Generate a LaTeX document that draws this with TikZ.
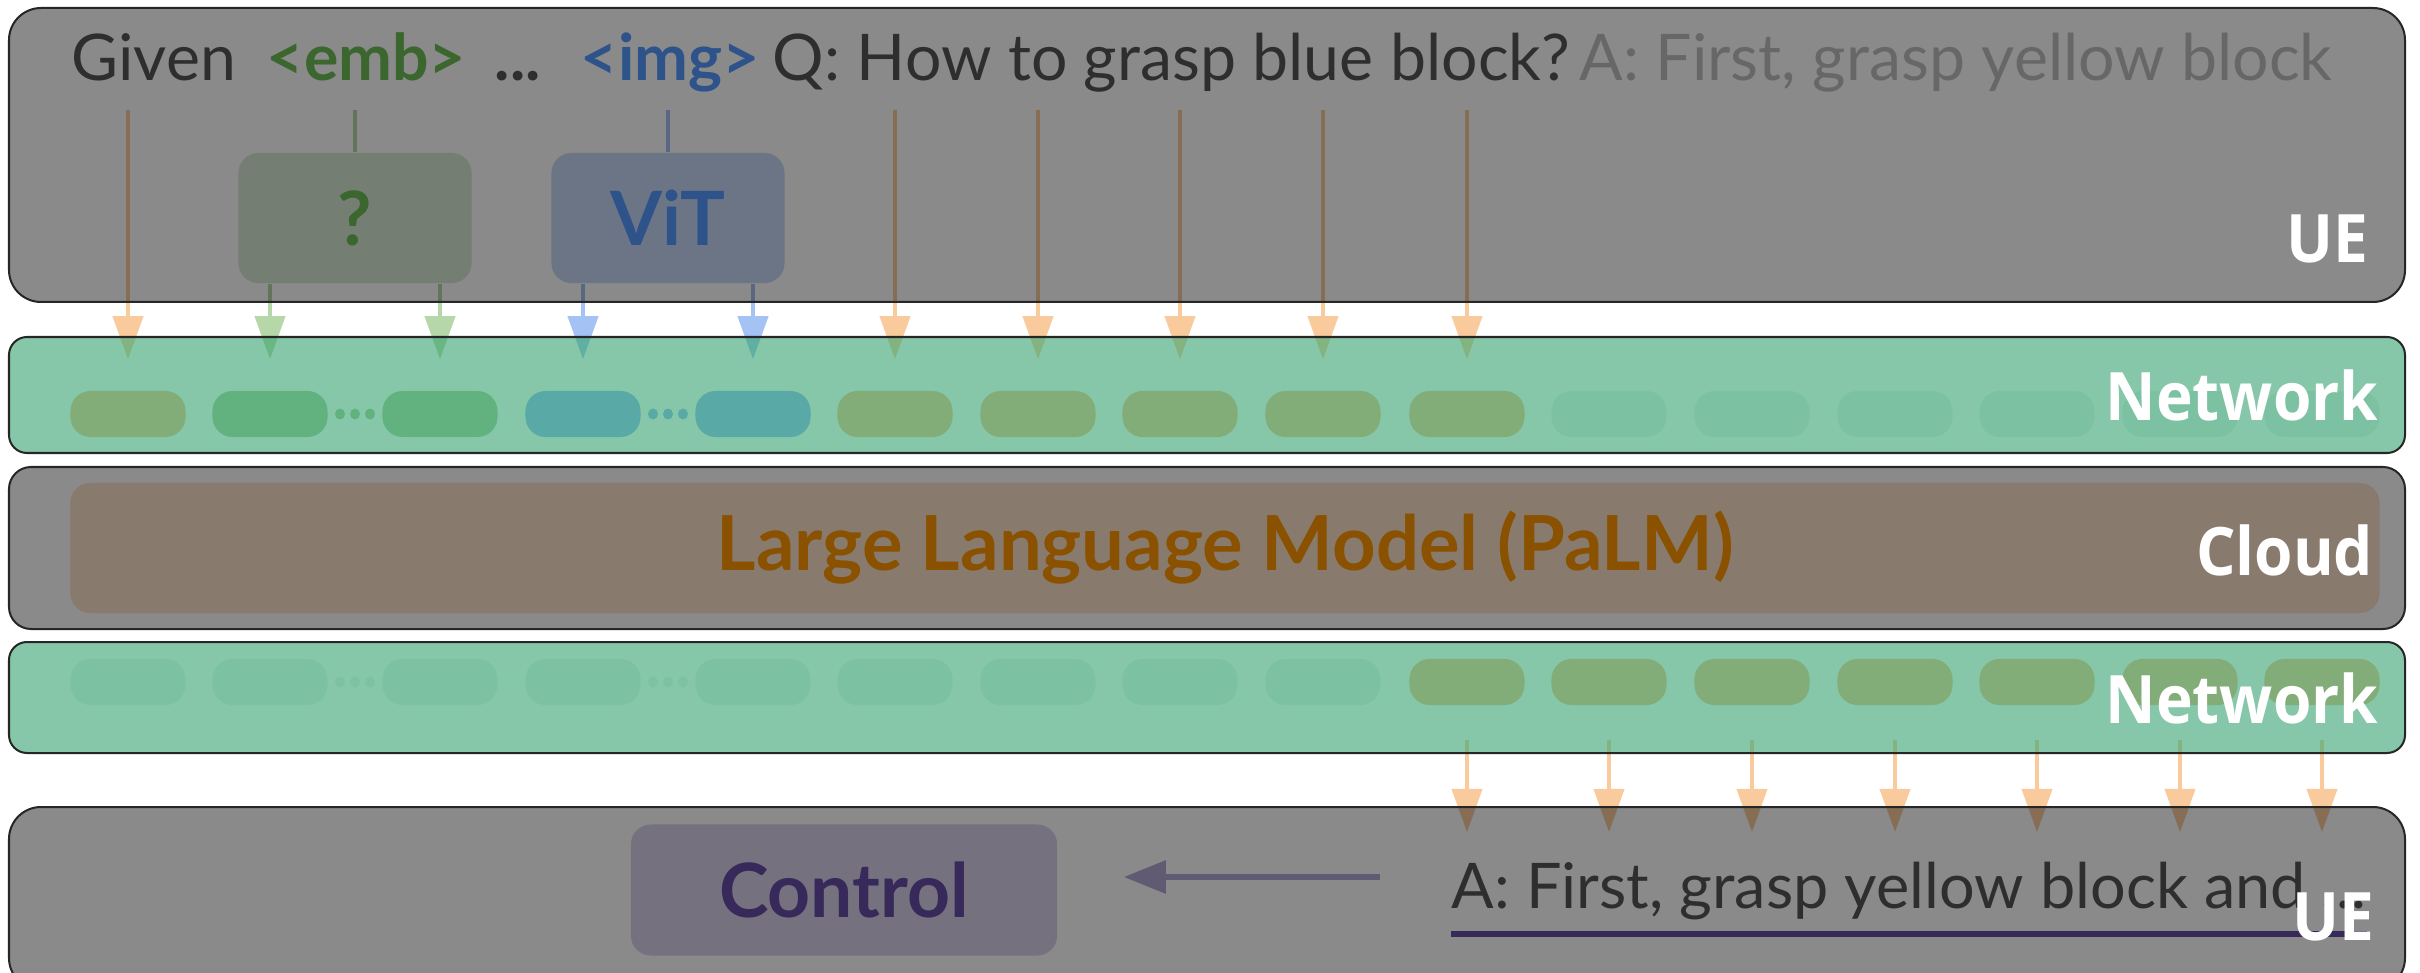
\documentclass[tikz,border=0pt]{standalone}
\usepackage{fontspec}
\setmainfont{Lato}
\newfontfamily\labelfont[FakeStretch=0.93]{Open Sans}
\usetikzlibrary{arrows.meta, calc}
\definecolor{txtdark}{RGB}{85,85,85}
\definecolor{txtfaint}{RGB}{192,192,192}
\definecolor{embgreen}{RGB}{110,190,85}
\definecolor{imgblue}{RGB}{85,155,255}
\definecolor{arrO}{HTML}{F9CB9C}
\definecolor{arrG}{HTML}{B6D7A8}
\definecolor{arrB}{HTML}{A4C2F4}
\definecolor{tokO}{RGB}{247,187,137}
\definecolor{tokG}{RGB}{165,202,152}
\definecolor{tokB}{RGB}{145,178,250}
\definecolor{tokE}{RGB}{232,240,240}
\definecolor{netgreen}{RGB}{53,163,110}
\definecolor{boxG}{HTML}{D9EAD3}
\definecolor{boxB}{HTML}{C9DAF8}
\definecolor{llmfill}{HTML}{FCE5CD}
\definecolor{llmtext}{HTML}{FF9900}
\definecolor{ctrlfill}{HTML}{D9D2E9}
\definecolor{ctrltext}{HTML}{674EA7}
\definecolor{ctrlarr}{HTML}{B4A7D6}
\tikzset{>={Triangle[width=0.3cm,length=0.43cm]},
  word/.style={anchor=base west, inner sep=0pt, text depth=0.28cm, text=txtdark, font=\fontsize{18.3}{20}\selectfont},
  token/.style={minimum width=1.15cm, minimum height=0.46cm, inner sep=0pt, rounded corners=0.2cm},
  feed/.style={line width=0.04cm, ->},
  intok/.style={feed, shorten >=0.31cm},
  enc/.style={minimum width=2.33cm, minimum height=1.3cm, rounded corners=0.2cm, font=\fontsize{21.3}{23}\selectfont\bfseries},
  band/.style={draw=black!85, line width=0.02cm, fill=black, fill opacity=0.46},
  netband/.style={band, fill=netgreen, fill opacity=0.6},
  tag/.style={anchor=base east, inner sep=0pt, text=white, font=\labelfont\fontsize{19}{20}\selectfont\bfseries}}

\begin{document}
\begin{tikzpicture}[x=0.01cm, y=-0.01cm]
    \useasboundingbox (0,0) rectangle (2420,973);
    \clip (0,0) rectangle (2420,973);
    \fill[white] (0,0) rectangle (2420,973);
   %\draw[step=100, help lines] (0,0) grid (2420,973);
    \node[word] (given) at (71,81) {Given};
    \node[word, text=embgreen, font=\fontsize{18.3}{20}\selectfont\bfseries] (emb) at (266,81) {<emb>};
    \node[word, font=\fontsize{18.3}{20}\selectfont\bfseries] (skip) at (494,81) {...};
    \node[word, text=imgblue, font=\fontsize{18.3}{20}\selectfont\bfseries] (img) at (580,81) {<img>};
    \node[word] (question) at (772,81) {Q: How to grasp blue block?};
    \node[word, text=txtfaint] (prefix) at (1579,81) {A: First, grasp yellow block};
    \node[enc, fill=boxG, text=embgreen] (qbox) at (355,218) {?};
    \node[enc, fill=boxB, text=imgblue] (vit) at (668,218) {ViT};
    \foreach \x/\c [count=\i] in {128/tokO, 270/tokG, 440/tokG, 583/tokB, 753/tokB, 895/tokO, 1038/tokO, 1180/tokO,
        1323/tokO, 1467/tokO, 1609/tokE, 1752/tokE, 1895/tokE, 2037/tokE, 2180/tokE, 2322/tokE} {
        \node[token, fill=\c] (in\i) at (\x,414) {};
        \ifnum\i<10 \def\d{tokE}\else\def\d{tokO}\fi
        \node[token, fill=\d] (out\i) at (\x,682) {};
    }
    \foreach \a/\b/\c in {in2/in3/tokG, in4/in5/tokB, out2/out3/tokE, out4/out5/tokE}
        \foreach \s in {-15,0,15}
            \fill[\c] ($(\a.east)!.5!(\b.west)$) ++(\s,0) circle[x radius=0.05cm, y radius=0.055cm];
    \draw[intok, arrO] (given.south -| in1) -- (in1.north);
    \foreach \i in {6,...,10} \draw[intok, arrO] (question.south -| in\i) -- (in\i.north);
    \draw[line width=0.04cm, arrG] (emb.south -| qbox) -- (qbox.north);
    \draw[line width=0.04cm, arrB] (img.south -| vit) -- (vit.north);
    \foreach \i in {2,3} \draw[intok, arrG] (qbox.south -| in\i) -- (in\i.north);
    \foreach \i in {4,5} \draw[intok, arrB] (vit.south -| in\i) -- (in\i.north);
    \node[fill=llmfill, minimum width=23.08cm, minimum height=1.3cm, rounded corners=0.2cm, text=llmtext,
        font=\fontsize{21.6}{23}\selectfont\bfseries] (llm) at (1225,548) {Large Language Model (PaLM)};
    \coordinate (hit) at (0,832);
    \foreach \i in {10,...,16} \draw[feed, arrO, shorten <=0.34cm] (out\i.south) -- (out\i |- hit);
    \node[word, text depth=0.25cm, font=\fontsize{17.9}{20}\selectfont] (answer) at (1451,908) {A: First, grasp yellow block and ...};
    \draw[ctrltext, line width=0.06cm] (answer.south west) -- (answer.south east);
    \node[enc, fill=ctrlfill, text=ctrltext, minimum width=4.26cm, minimum height=1.31cm] (ctrl) at (844,890) {Control};
    \coordinate (cfrom) at (1380,877);
    \draw[line width=0.06cm, ctrlarr, -{Triangle[width=0.32cm,length=0.42cm]}, shorten >=0.66cm] (cfrom) -- (ctrl.east |- cfrom);
    \draw[band, rounded corners=0.32cm] (9,8) rectangle (2405,302);
    \draw[netband, rounded corners=0.18cm] (9,337) rectangle (2405,453);
    \draw[band, rounded corners=0.22cm] (9,467) rectangle (2405,629);
    \draw[netband, rounded corners=0.18cm] (9,642) rectangle (2405,753);
    \draw[band, rounded corners=0.32cm] (9,807) rectangle (2405,990);
    \node[tag] (ue1) at (2369,263) {UE};
    \node[tag] (net1) at (2379,420) {Network};
    \node[tag] (cloud) at (2374,575) {Cloud};
    \node[tag] (net2) at (2379,723) {Network};
    \node[tag] (ue2) at (2375,940) {UE};
\end{tikzpicture}
\end{document}
